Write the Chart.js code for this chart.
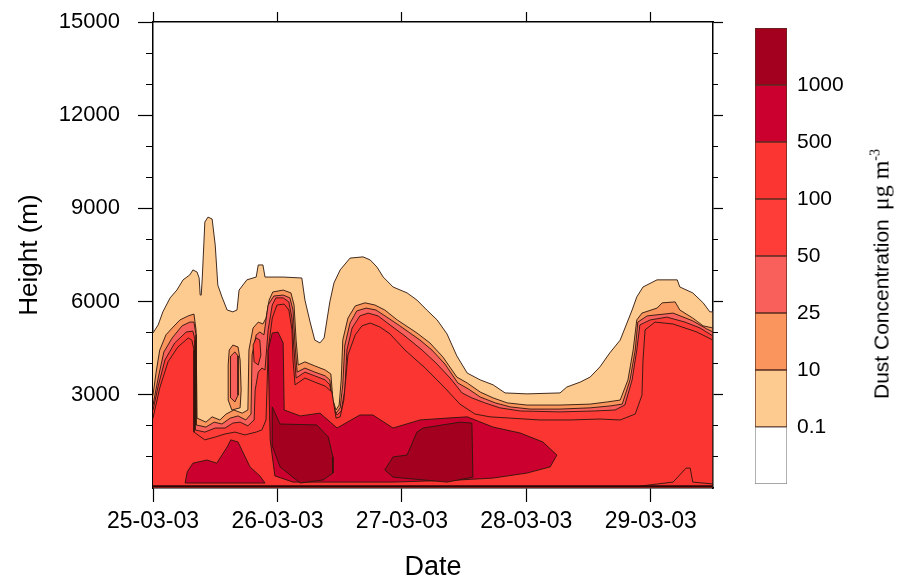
<!DOCTYPE html>
<html>
<head>
<meta charset="utf-8">
<script src="https://cdn.jsdelivr.net/npm/chart.js@4.4.0/dist/chart.umd.min.js"></script>
<style>
html, body { margin: 0; padding: 0; background: #fff; }
#wrap { position: relative; width: 899px; height: 581px; overflow: hidden; }
#main { position: absolute; left: 0; top: 0; }
#bar { position: absolute; left: 740px; top: 0; }
#cbTitle {
    position: absolute; left: 881px; top: 274px;
    transform: translate(-50%, -50%) rotate(-90deg);
    white-space: nowrap; color: #000;
    font-family: 'Liberation Sans', Arial, sans-serif; font-size: 21px;
}
#cbTitle .unit { font-family: 'Liberation Serif', 'Times New Roman', serif; font-size: 24px; margin-left: 9px; }
#cbTitle sup { font-size: 14px; }
</style>
</head>
<body>
<div id="wrap">
    <canvas id="main" width="899" height="581"></canvas>
    <canvas id="bar" width="159" height="581"></canvas>
    <div id="cbTitle">Dust Concentration<span class="unit">&mu;g m<sup>-3</sup></span></div>
</div>
<script>
const FONT = "'Liberation Sans', Arial, Helvetica, sans-serif";

const dateTicks = [0, 24, 48, 72, 96];
const dateLabels = ['25-03-03', '26-03-03', '27-03-03', '28-03-03', '29-03-03'];
const heightTicks = [3000, 6000, 9000, 12000, 15000];
const minorHeights = [1000, 2000, 4000, 5000, 7000, 8000, 10000, 11000, 13000, 14000];
const levelLabels = ['0.1', '10', '25', '50', '100', '500', '1000'];
const levelColors = ['#ffffff', '#fdca90', '#f9955d', '#fa605b', '#fe3d39', '#fb3531', '#cb002f', '#a3001f'];

// contour outlines: [hours since 25-03-03 00h, height in m]
const band01 = [[0,4990],[1.0,5250],[1.9,5670],[3.3,6120],[4.6,6370],[5.8,6700],[7.1,6860],[7.7,7020],[8.5,6950],[8.9,6760],[9.1,6210],[9.3,6210],[9.5,6760],[10.0,8560],[10.6,8720],[11.4,8660],[12.0,7820],[12.5,6530],[13.3,6150],[14.3,5730],[15.4,5670],[16.2,5730],[16.6,6370],[18.1,6700],[19.9,6790],[20.3,7180],[21.2,7180],[21.6,6790],[25.1,6790],[28.7,6760],[29.3,6050],[30.3,5340],[31.2,4760],[32.2,4670],[33.0,4830],[34.1,5990],[34.9,6600],[36.1,7020],[38.0,7400],[40.5,7440],[41.9,7340],[43.2,7110],[44.4,6790],[46.3,6470],[49.0,6280],[50.9,6050],[52.8,5730],[54.8,5410],[56.7,4960],[58.6,4250],[60.6,3700],[63.1,3480],[65.6,3320],[67.9,3060],[72.1,3030],[78.5,3060],[79.8,3250],[82.4,3410],[84.3,3570],[86.2,3900],[88.1,4350],[90.1,4760],[91.4,5310],[92.4,5730],[93.3,6150],[94.5,6470],[97.2,6700],[101.1,6700],[101.6,6470],[104.1,6280],[106.1,5960],[107.4,5670],[108,5670],[108,0],[0,0]];

const band10 = [[0,2990],[0.6,3730],[1.3,4440],[2.5,4930],[3.7,5150],[5.2,5410],[6.8,5540],[7.9,5600],[8.3,5090],[8.5,2250],[10.2,2120],[11.4,2290],[12.9,2190],[14.1,2380],[15.6,2510],[17.2,2410],[18.3,2510],[18.5,4440],[19.3,5150],[20.3,5340],[21.2,5280],[21.8,5470],[22.4,6050],[23.1,6310],[25.1,6370],[26.6,6280],[27.2,5890],[27.6,4760],[28.0,3960],[29.3,4060],[31.2,3930],[33.2,3800],[34.3,3670],[34.7,2830],[35.3,2510],[35.9,2670],[36.3,3480],[36.6,4760],[37.6,5470],[39.0,5860],[40.9,5960],[42.8,5890],[44.7,5730],[47.1,5410],[50.9,4990],[53.4,4670],[55.9,4220],[58.6,3570],[60.6,3380],[63.1,3090],[65.6,2900],[68.3,2740],[72.1,2670],[78.5,2670],[84.3,2700],[87.6,2770],[90.1,2830],[91.6,3480],[92.6,4440],[93.3,5410],[94.3,5630],[97.2,5790],[98.2,5960],[100.7,5990],[101.6,5730],[104.1,5470],[106.1,5220],[108,5150],[108,0],[0,0]];
const isle10 = [[14.7,4440],[15.4,4600],[16.4,4540],[16.8,4120],[17.0,3150],[16.8,2580],[15.2,2510],[14.5,2830],[14.5,3960],[14.7,4440]];

const band25 = [[0,2670],[1.0,3540],[2.1,4380],[3.7,4830],[5.6,5220],[7.1,5340],[7.9,5340],[8.3,4930],[8.3,2030],[10.2,1960],[11.8,2120],[13.3,2060],[14.9,2250],[16.4,2320],[17.9,2190],[18.9,2380],[19.1,4280],[19.9,4930],[20.6,5020],[21.4,4930],[22.2,5890],[23.3,6180],[25.1,6210],[26.4,6120],[27.0,5730],[27.4,4600],[27.8,3730],[29.3,3860],[31.2,3730],[33.2,3610],[34.1,3480],[34.7,2670],[35.3,2410],[36.1,2580],[36.6,3320],[37.0,4600],[38.0,5310],[39.3,5700],[41.1,5790],[43.0,5730],[45.1,5500],[47.6,5220],[51.5,4760],[53.8,4440],[56.3,3990],[58.8,3380],[60.8,3190],[63.1,2930],[66.0,2740],[68.9,2610],[72.7,2540],[78.5,2540],[84.3,2580],[88.1,2640],[90.5,2700],[92.0,3480],[93.0,4440],[93.5,5340],[95.3,5540],[100.3,5630],[104.1,5380],[106.8,5120],[108,5020],[108,0],[0,0]];
const isle25 = [[15.0,4250],[15.8,4380],[16.4,4250],[16.4,2990],[15.8,2770],[15.0,2900],[14.9,3800],[15.0,4250]];

const band50 = [[0,2510],[1.0,3280],[2.3,4120],[4.2,4670],[6.4,5020],[7.7,5050],[8.1,4760],[8.1,1870],[10.0,1800],[12.0,1930],[13.9,1930],[15.4,2090],[16.8,2120],[18.3,2000],[19.5,2190],[19.7,3150],[20.3,3730],[21.0,3860],[21.6,3800],[22.2,5090],[23.0,5890],[23.7,6120],[25.1,6120],[26.2,5990],[26.8,5470],[27.2,4440],[27.6,3540],[29.3,3730],[31.2,3610],[33.2,3480],[34.1,3320],[34.9,2510],[35.5,2350],[36.3,2480],[37.0,3150],[37.4,4440],[38.4,5150],[39.9,5540],[41.5,5630],[43.4,5540],[45.7,5250],[48.6,4890],[51.9,4440],[54.6,4020],[57.3,3540],[59.6,3060],[61.5,2900],[64.0,2740],[66.9,2580],[70.8,2480],[78.5,2450],[85.2,2480],[89.1,2510],[91.0,2670],[92.4,3480],[93.3,4440],[93.9,5250],[95.9,5410],[99.1,5500],[102.6,5340],[105.5,5150],[108,4890],[108,0],[0,0]];
const pocket50 = [[19.3,4600],[19.9,4830],[20.6,4760],[20.8,4280],[20.3,3960],[19.5,4060],[19.3,4600]];

const band100 = [[0,2250],[1.3,3220],[2.9,4060],[4.8,4540],[6.8,4830],[7.5,4760],[7.9,4440],[7.9,1800],[10.0,1550],[12.0,1640],[13.9,1740],[15.8,1800],[17.7,1710],[19.9,1800],[21.0,1870],[21.8,2190],[22.2,4440],[23.0,5470],[23.9,5890],[25.3,5920],[26.2,5730],[26.8,5090],[27.0,4120],[27.4,3320],[29.3,3540],[31.2,3410],[33.2,3280],[34.5,3090],[35.3,2250],[36.1,2290],[36.8,2830],[37.6,4280],[39.0,4930],[40.3,5220],[41.9,5310],[43.8,5180],[45.7,4960],[48.6,4440],[52.5,3860],[56.3,3220],[59.2,2700],[62.1,2380],[65.0,2290],[68.9,2250],[74.6,2190],[80.4,2190],[86.2,2220],[90.1,2190],[93.0,2380],[94.3,2990],[94.5,4120],[94.9,5090],[96.8,5340],[100.3,5280],[104.9,5020],[108,4760],[108,0],[0,0]];

const band500 = [[22.2,4440],[23.0,4990],[24.1,5020],[25.1,4670],[25.3,2510],[28.4,2320],[32.2,2410],[35.5,1930],[39.9,2350],[42.4,2350],[46.3,1930],[51.5,2190],[56.7,2250],[60.6,2290],[65.6,1960],[70.8,1770],[75.2,1480],[77.9,1060],[76.6,680],[72.1,480],[65.6,320],[59.2,260],[46.3,190],[33.6,190],[27.0,190],[23.5,390],[22.6,1550],[22.2,4440]];
const isle500 = [[6.2,160],[6.6,520],[7.7,800],[10.4,900],[12.3,800],[14.3,1320],[15.0,1550],[16.4,1480],[17.4,1130],[18.7,680],[20.6,390],[21.6,160],[6.2,160]];

const core1000a = [[23.0,2610],[24.5,2060],[31.6,2030],[33.8,1640],[34.7,1000],[34.7,480],[32.8,260],[28.4,160],[24.5,680],[23.1,1320],[23.0,2610]];
const core1000b = [[44.7,580],[46.3,1000],[49.0,1060],[50.9,1800],[52.1,1930],[59.2,2120],[61.5,2090],[61.7,350],[56.7,190],[46.3,350],[44.7,580]];

const spikeLine = [[93.9,60],[100.3,190],[102.8,640],[103.6,640],[104.1,190],[108,130]];
const groundLine = [[0,60],[108,60]];

const LINE = 'rgba(45,22,12,0.9)';

const layers = [
    [band01, 1], [band10, 2], [isle10, 2], [band25, 3], [isle25, 3],
    [band50, 4], [pocket50, 4], [band100, 5], [band500, 6], [isle500, 6],
    [core1000a, 7], [core1000b, 7]
];

const datasets = layers.map(([pts, lvl]) => ({
    data: pts.map(p => ({ x: p[0], y: p[1] })),
    showLine: true,
    fill: 'shape',
    backgroundColor: levelColors[lvl],
    borderColor: LINE,
    borderWidth: 1,
    pointRadius: 0,
    tension: 0
}));
datasets.push({
    data: spikeLine.map(p => ({ x: p[0], y: p[1] })),
    showLine: true, fill: false, borderColor: LINE, borderWidth: 1, pointRadius: 0
});
datasets.push({
    data: groundLine.map(p => ({ x: p[0], y: p[1] })),
    showLine: true, fill: false, borderColor: '#2a0808', borderWidth: 2, pointRadius: 0
});
datasets.forEach((d, i) => { d.order = datasets.length - i; });

function setTicks(list) {
    return s => { s.ticks = list.map(v => ({ value: v })); };
}
// fixed box size, and no extra room asked for half labels at the ends
function boxSize(w, h) {
    return s => {
        if (w !== null) s.width = w;
        if (h !== null) s.height = h;
        s.paddingTop = 0; s.paddingBottom = 0;
        s.paddingLeft = 0; s.paddingRight = 0;
    };
}

new Chart(document.getElementById('main'), {
    type: 'scatter',
    data: { datasets: datasets },
    options: {
        responsive: false,
        animation: false,
        events: [],
        layout: { padding: { left: 0, top: 22, right: 186, bottom: 0 } },
        plugins: { legend: { display: false }, tooltip: { enabled: false } },
        scales: {
            x: {
                type: 'linear', position: 'bottom', min: 0, max: 108,
                afterBuildTicks: setTicks(dateTicks),
                afterFit: boxSize(null, 93),
                ticks: {
                    callback: v => dateLabels[dateTicks.indexOf(v)],
                    font: { size: 23, family: FONT }, color: '#000', padding: 6,
                    maxRotation: 0, autoSkip: false
                },
                grid: { drawOnChartArea: false, tickLength: 14, tickColor: '#000', tickWidth: 1.2 },
                border: { color: '#000', width: 1.5 },
                title: {
                    display: true, text: 'Date', color: '#000',
                    font: { size: 27, family: FONT, lineHeight: 1 },
                    padding: { top: 0, bottom: 0 }
                }
            },
            xTop: {
                type: 'linear', position: 'top', min: 0, max: 108,
                afterBuildTicks: setTicks(dateTicks),
                afterFit: boxSize(null, 0),
                ticks: { display: false },
                grid: { drawOnChartArea: false, tickLength: 10, tickColor: '#000', tickWidth: 1.2 },
                border: { color: '#000', width: 1.5 }
            },
            y: {
                type: 'linear', position: 'left', min: 0, max: 15000, weight: 1,
                afterBuildTicks: setTicks(heightTicks),
                afterFit: boxSize(153, null),
                ticks: {
                    callback: v => String(v),
                    font: { size: 22, family: FONT }, color: '#000', padding: 18
                },
                grid: { drawOnChartArea: false, tickLength: 15, tickColor: '#000', tickWidth: 1.2 },
                border: { color: '#000', width: 1.5 },
                title: {
                    display: true, text: 'Height (m)', color: '#000',
                    font: { size: 26, family: FONT, lineHeight: 1 },
                    padding: { top: 17, bottom: 0 }
                }
            },
            yMinor: {
                type: 'linear', position: 'left', min: 0, max: 15000, weight: 0,
                afterBuildTicks: setTicks(minorHeights),
                afterFit: boxSize(0, null),
                ticks: { display: false },
                grid: { drawOnChartArea: false, tickLength: 7, tickColor: '#000', tickWidth: 1 },
                border: { display: false }
            },
            yRight: {
                type: 'linear', position: 'right', min: 0, max: 15000,
                afterBuildTicks: setTicks(heightTicks),
                afterFit: boxSize(0, null),
                ticks: { display: false },
                grid: { drawOnChartArea: false, tickLength: 10, tickColor: '#000', tickWidth: 1.2 },
                border: { color: '#000', width: 1.5 }
            },
            yRightMinor: {
                type: 'linear', position: 'right', min: 0, max: 15000,
                afterBuildTicks: setTicks(minorHeights),
                afterFit: boxSize(0, null),
                ticks: { display: false },
                grid: { drawOnChartArea: false, tickLength: 5, tickColor: '#000', tickWidth: 1 },
                border: { display: false }
            }
        }
    }
});

new Chart(document.getElementById('bar'), {
    type: 'bar',
    data: {
        labels: [''],
        datasets: levelColors.map((c, i) => ({
            data: [1],
            backgroundColor: c,
            borderColor: i === 0 ? '#8a8a8a' : '#5a2c20',
            borderWidth: 1,
            borderSkipped: false,
            barPercentage: 1,
            categoryPercentage: 1
        }))
    },
    options: {
        responsive: false,
        animation: false,
        events: [],
        layout: { padding: { left: 15, top: 28, bottom: 97, right: 0 } },
        plugins: { legend: { display: false }, tooltip: { enabled: false } },
        scales: {
            x: { stacked: true, display: false },
            y: {
                stacked: true, position: 'right', min: 0, max: 8,
                afterBuildTicks: setTicks(levelLabels.map((l, i) => i + 1)),
                afterFit: boxSize(112, null),
                ticks: {
                    callback: v => levelLabels[v - 1],
                    font: { size: 21, family: FONT }, color: '#000', padding: 2
                },
                grid: { display: false },
                border: { display: false }
            }
        }
    }
});
</script>
</body>
</html>
